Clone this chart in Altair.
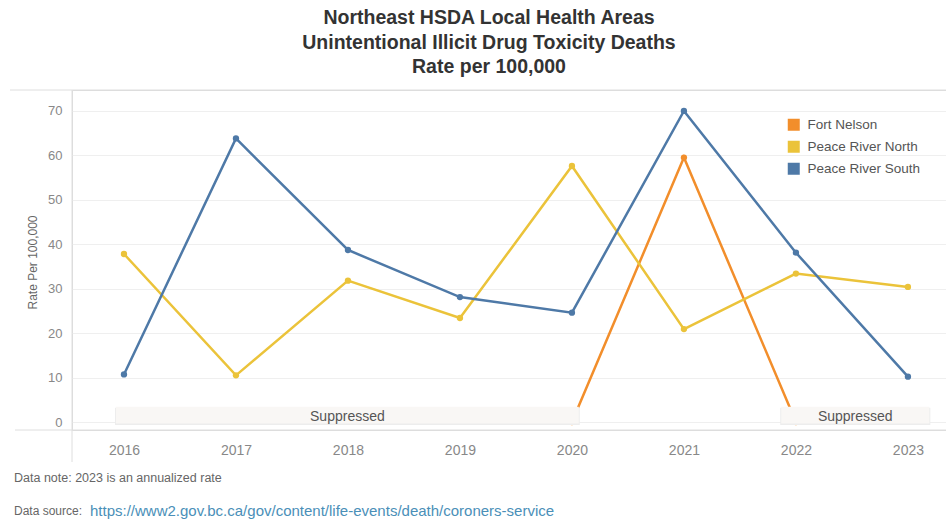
import altair as alt
import pandas as pd

# ---- data ----
years = [2016, 2017, 2018, 2019, 2020, 2021, 2022, 2023]
fort_nelson = [None, None, None, None, 0, 59.5, 0, None]   # suppressed years shown as boxes
peace_river_north = [37.8, 10.5, 31.8, 23.4, 57.6, 20.9, 33.4, 30.4]
peace_river_south = [10.7, 63.8, 38.7, 28.1, 24.6, 70.0, 38.1, 10.2]

series_names = ["Fort Nelson", "Peace River North", "Peace River South"]
series_colors = ["#F28E2B", "#EBC33A", "#4E79A7"]

supp_start = [2015.92, 2021.86]
supp_end = [2020.07, 2023.20]
supp_text = ["Suppressed", "Suppressed"]

y_ticks = [0, 10, 20, 30, 40, 50, 60, 70]

title_lines = ["Northeast HSDA Local Health Areas",
               "Unintentional Illicit Drug Toxicity Deaths",
               "Rate per 100,000"]
note_text = "Data note:  2023 is an annualized rate"
source_label = "Data source:"
source_link = "https://www2.gov.bc.ca/gov/content/life-events/death/coroners-service"

FONT = "Liberation Sans"

rows = []
for name, vals in zip(series_names, [fort_nelson, peace_river_north, peace_river_south]):
    for yr, v in zip(years, vals):
        if v is not None:
            rows.append({"Year": yr, "Rate": v, "Area": name})
df = pd.DataFrame(rows)

supp = pd.DataFrame({"x1": supp_start, "x2": supp_end, "label": supp_text})
supp["xm"] = (supp["x1"] + supp["x2"]) / 2
supp["y1"] = -0.7
supp["y2"] = 3.2

xscale = alt.Scale(domain=[2015.536, 2023.34], nice=False, zero=False)
yscale = alt.Scale(domain=[-1.8, 74.7], nice=False, zero=False)
cscale = alt.Scale(domain=series_names, range=series_colors)

legend = alt.Legend(title=None, orient="none", legendX=715, legendY=28,
                    symbolType="square", symbolSize=144, symbolStrokeWidth=0,
                    symbolOpacity=1, labelFontSize=13.5, labelColor="#555",
                    labelFont=FONT, rowPadding=7, labelOffset=7, padding=0)

x_enc = alt.X("Year:Q", scale=xscale,
              axis=alt.Axis(values=years, format="d", title=None, grid=False,
                            domain=False, ticks=False, labelPadding=13,
                            labelFontSize=14, labelColor="#888", labelFont=FONT))
y_enc = alt.Y("Rate:Q", scale=yscale,
              axis=alt.Axis(values=y_ticks, title="Rate Per 100,000", grid=True,
                            gridColor="#efefef", domain=False, ticks=False,
                            labelPadding=10, labelFontSize=13, labelColor="#888",
                            labelFont=FONT, titleFont=FONT, titleFontSize=12,
                            titleFontWeight="normal", titleColor="#666",
                            titleX=-33, titleY=172))

lines = alt.Chart(df).mark_line(strokeWidth=2.5).encode(
    x=x_enc, y=y_enc,
    color=alt.Color("Area:N", scale=cscale, legend=legend),
)
points = alt.Chart(df).mark_circle(size=40, opacity=1).encode(
    x="Year:Q", y="Rate:Q",
    color=alt.Color("Area:N", scale=cscale, legend=legend),
)

one = pd.DataFrame({"k": [0]})
frame_color = "#dedede"
top_line = alt.Chart(one).mark_rule(color=frame_color, strokeWidth=1).encode(
    x=alt.value(-62), x2=alt.value(874), y=alt.value(0))
bottom_line = alt.Chart(one).mark_rule(color=frame_color, strokeWidth=1).encode(
    x=alt.value(-57), x2=alt.value(874), y=alt.value(340))
left_line = alt.Chart(one).mark_rule(color=frame_color, strokeWidth=1).encode(
    x=alt.value(0), y=alt.value(0), y2=alt.value(372))

supp_shadow = alt.Chart(supp).mark_rect(color="#ededed").encode(
    x="x1:Q", x2="x2:Q", y="y1:Q", y2="y2:Q")
supp_box = alt.Chart(supp).mark_rect(color="#f9f7f5", yOffset=-1.5, y2Offset=-1, xOffset=1, x2Offset=-1).encode(
    x="x1:Q", x2="x2:Q", y="y1:Q", y2="y2:Q")
supp_lbl = alt.Chart(supp).mark_text(font=FONT, fontSize=14, color="#555",
                                     baseline="middle", align="center").encode(
    x="xm:Q", y=alt.value(327), text="label:N")

note = alt.Chart(one).mark_text(font=FONT, fontSize=12.5, color="#666", align="left",
                                baseline="middle", text=note_text).encode(
    x=alt.value(-58), y=alt.value(388))
src = alt.Chart(one).mark_text(font=FONT, fontSize=12, color="#666", align="left",
                               baseline="middle", text=source_label).encode(
    x=alt.value(-58), y=alt.value(421))
link = alt.Chart(one).mark_text(font=FONT, fontSize=15, color="#4a8fb8", align="left",
                                baseline="middle", text=source_link).encode(
    x=alt.value(18), y=alt.value(421))

chart = alt.layer(
    top_line, bottom_line, left_line, lines, points,
    supp_shadow, supp_box, supp_lbl, note, src, link,
).properties(
    width=874, height=340,
    title=alt.TitleParams(text=title_lines, font=FONT, fontSize=19.5, fontWeight="bold",
                          color="#333", anchor="middle", frame="group", dx=-20,
                          lineHeight=24.5, offset=12),
    autosize=alt.AutoSizeParams(type="none"),
    padding={"left": 72, "top": 90, "right": 0, "bottom": 89},
).configure_view(stroke=None).configure(background="white")

chart.save("out.html", embed_options={"renderer": "svg", "actions": False})
